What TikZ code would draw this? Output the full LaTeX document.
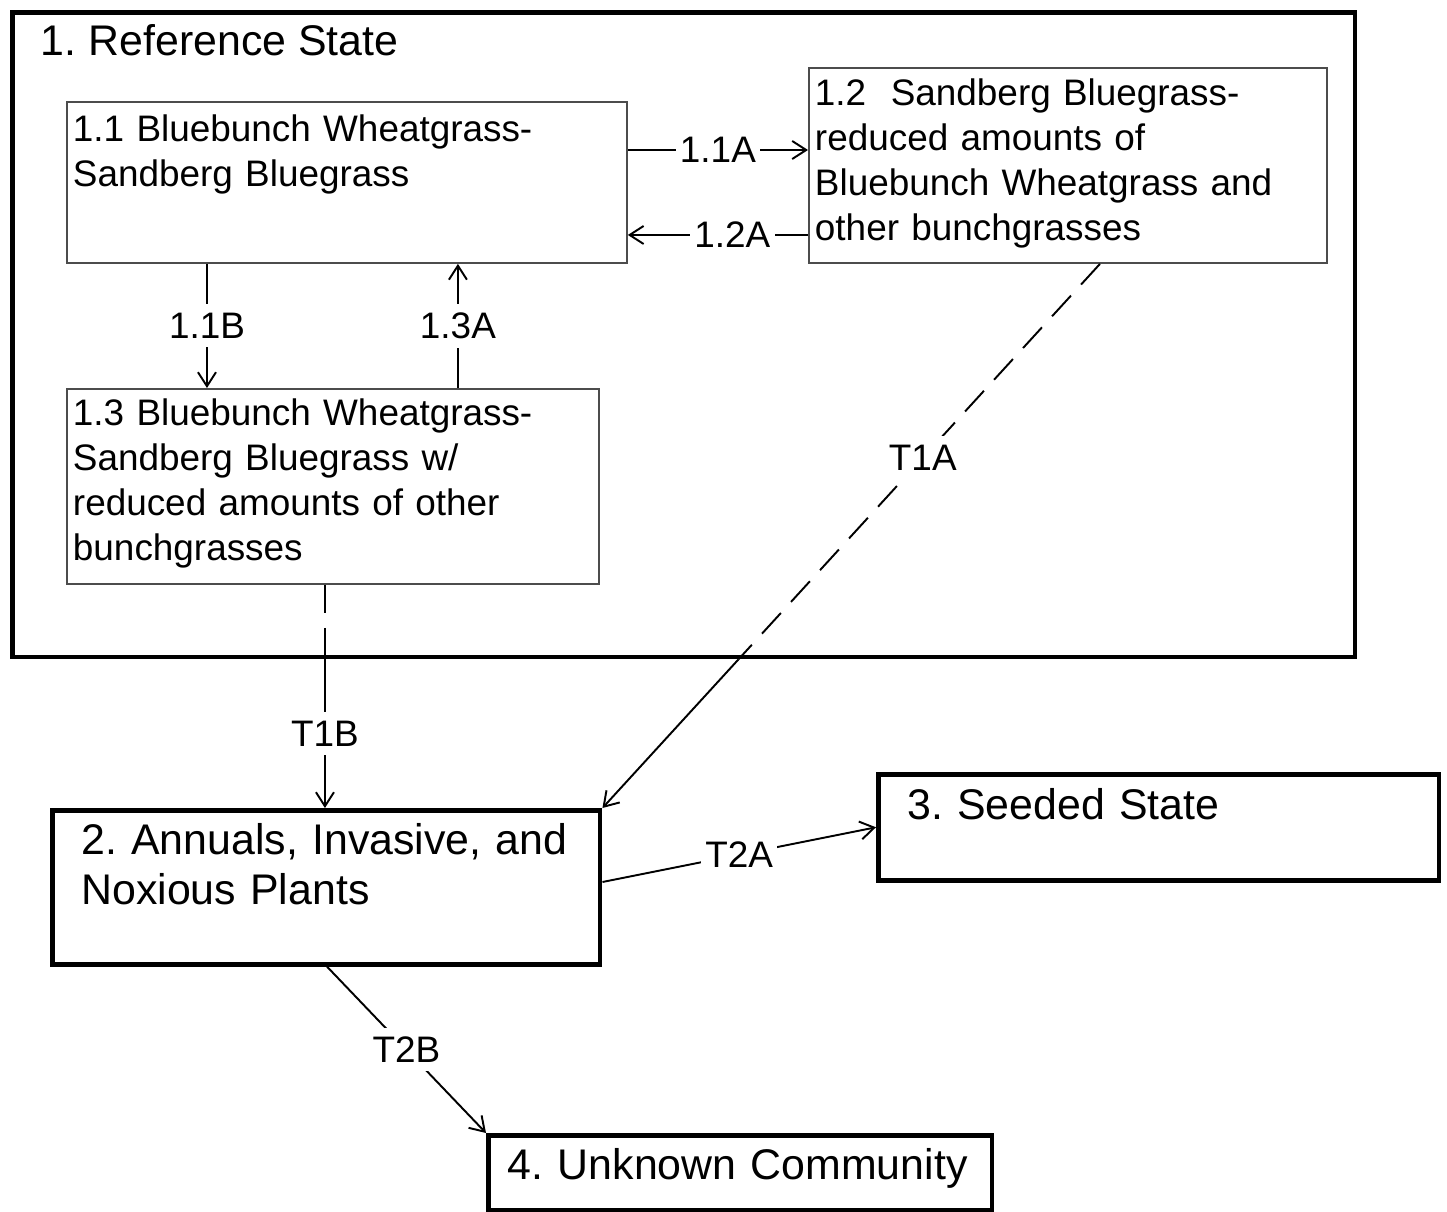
\documentclass[tikz,border=0pt]{standalone}
\usepackage{fontspec}
\setmainfont{Liberation Sans}
\usetikzlibrary{arrows.meta}
\tikzset{phase/.style={draw=black!70,line width=1.1pt,anchor=north west,
                       align=left,inner xsep=0.12cm,inner ysep=0.2cm,
                       font=\fontsize{21}{25.5}\selectfont\frenchspacing}}
\tikzset{statebox/.style={phase,draw=black,line width=2.6pt,inner xsep=0.58cm,
                          font=\fontsize{24.4}{28.4}\selectfont\frenchspacing}}
\tikzset{trans/.style={fill=white,inner xsep=2.5pt,inner ysep=5pt,font=\fontsize{21}{25.5}\selectfont}}
\tikzset{brokenline/.style={line width=1.1pt,dash pattern=on 0.56cm off 0.3cm}}

\begin{document}
\begin{tikzpicture}[x=0.02cm,y=-0.02cm,line width=1.1pt,
                    >={Straight Barb[length=0.28cm,width=0.36cm]}]

    \useasboundingbox (0,0) rectangle (1447,1211);

    \node[statebox,inner sep=0pt,minimum width=26.86cm,minimum height=12.9cm] (ref) at (10,10) {};
    \node[anchor=base west,inner sep=0pt,font=\fontsize{24.4}{28.4}\selectfont\frenchspacing] (reftitle) at (40,55) {1. Reference State};

    \node[phase,text width=10.96cm,text height=0.6cm,text depth=2.22cm] (b11) at (66,101)
        {1.1 Bluebunch Wheatgrass-\\Sandberg Bluegrass};
    \node[phase,text width=10.12cm,text height=0.56cm,text depth=2.94cm] (b12) at (808,67)
        {1.2\ \ Sandberg Bluegrass-\\reduced amounts of\\Bluebunch Wheatgrass and\\other bunchgrasses};
    \node[phase,text width=10.4cm,text height=0.54cm,text depth=2.96cm] (b13) at (66,388)
        {1.3 Bluebunch Wheatgrass-\\Sandberg Bluegrass w/\\reduced amounts of other\\bunchgrasses};

    \node[statebox,text width=9.8cm,text height=0.68cm,text depth=2.0cm] (b2) at (50,808)
        {2. Annuals, Invasive, and\\Noxious Plants};
    \node[statebox,text width=10.06cm,text height=0.7cm,text depth=1.02cm] (b3) at (876,772)
        {3. Seeded State};
    \node[statebox,inner xsep=0.39cm,text width=9.3cm,text height=0.68cm,text depth=0.42cm] (b4) at (486,1133)
        {4. Unknown Community};

    % pathways inside the reference state
    \coordinate (p11a) at ([yshift=-0.98cm]b11.north east);
    \coordinate (p12a) at ([yshift=-3.36cm]b12.north west);
    \coordinate (p11b) at ([xshift=2.82cm]b11.south west);
    \coordinate (p13a) at ([xshift=7.84cm]b13.north west);

    \draw[->] (p11a) -- node[trans]{1.1A} (b12.west |- p11a);
    \draw[->] (p12a) -- node[trans,pos=0.42]{1.2A} (b11.east |- p12a);
    \draw[->] (p11b) -- node[trans]{1.1B} (b13.north -| p11b);
    \draw[->] (p13a) -- node[trans]{1.3A} (b11.south -| p13a);

    % transitions
    \coordinate (t1b) at ([xshift=5.18cm]b13.south west);
    \draw[brokenline] (t1b) -- (ref.south -| t1b);
    \draw[->] (ref.south -| t1b) -- node[trans]{T1B} (b2.north -| t1b);

    \coordinate (t1a) at ([xshift=5.84cm]b12.south west);
    \coordinate (t1acut) at (intersection of t1a--b2.north east and ref.south west--ref.south east);
    \draw[brokenline] (t1a) -- node[trans,pos=0.49]{T1A} (t1acut);
    \draw[->] (t1acut) -- (b2.north east);

    \draw[->] ([yshift=-1.48cm]b2.north east) -- node[trans]{T2A} (b3.west);
    \draw[->] ([xshift=5.54cm]b2.south west) -- node[trans]{T2B} (b4.north west);

\end{tikzpicture}
\end{document}
